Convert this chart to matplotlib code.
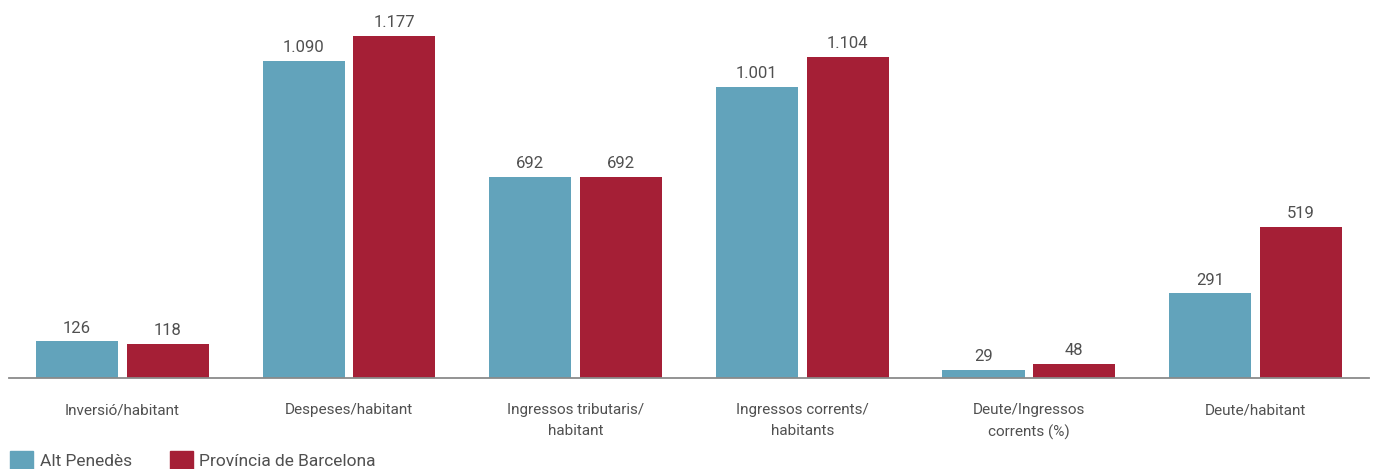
import numpy as np
import matplotlib.pyplot as plt
from matplotlib.patches import Patch

categories = ["Inversió/habitant", "Despeses/habitant", "Ingressos tributaris/\nhabitant",
              "Ingressos corrents/\nhabitants", "Deute/Ingressos\ncorrents (%)", "Deute/habitant"]
alt_penedes = [126, 1090, 692, 1001, 29, 291]
provincia = [118, 1177, 692, 1104, 48, 519]
series_names = ["Alt Penedès", "Província de Barcelona"]

BLUE = "#62A3BB"
RED = "#A51F36"
TEXT = "#505050"

plt.rcParams['font.family'] = ['Roboto', 'DejaVu Sans']


def fmt(v):
    # separador de milers amb punt
    return f"{v:,}".replace(",", ".")


fig = plt.figure(figsize=(13.75, 4.69), dpi=100)
ax = fig.add_axes([0.0065, 0.194, 0.989, 0.806])

x = np.arange(len(categories))
w = 0.362
b1 = ax.bar(x - 0.2, alt_penedes, w, color=BLUE)
b2 = ax.bar(x + 0.2, provincia, w, color=RED)

for bars, vals in ((b1, alt_penedes), (b2, provincia)):
    for r, v in zip(bars, vals):
        ax.text(r.get_x() + r.get_width() / 2, v + 20, fmt(v), ha='center', va='bottom',
                fontsize=12, color=TEXT)

ax.set_xlim(-0.5, 5.5)
ax.set_ylim(0, 1300)
ax.set_xticks(x)
ax.set_xticklabels(categories, fontsize=11, color=TEXT, linespacing=1.65, va='top')
ax.tick_params(axis='x', length=0, pad=18)
ax.set_yticks([])
for s in ['top', 'right', 'left']:
    ax.spines[s].set_visible(False)
ax.spines['bottom'].set_color('#8a8a8a')
ax.spines['bottom'].set_linewidth(1.3)

handles = [Patch(color=BLUE), Patch(color=RED)]
fig.legend(handles, series_names, loc='lower left', bbox_to_anchor=(-0.004, -0.035), ncol=2,
           frameon=False, fontsize=12.5, handlelength=1.3, handleheight=1.3,
           handletextpad=0.4, columnspacing=2.2, labelcolor=TEXT)

fig.savefig("out.png", dpi=100)
